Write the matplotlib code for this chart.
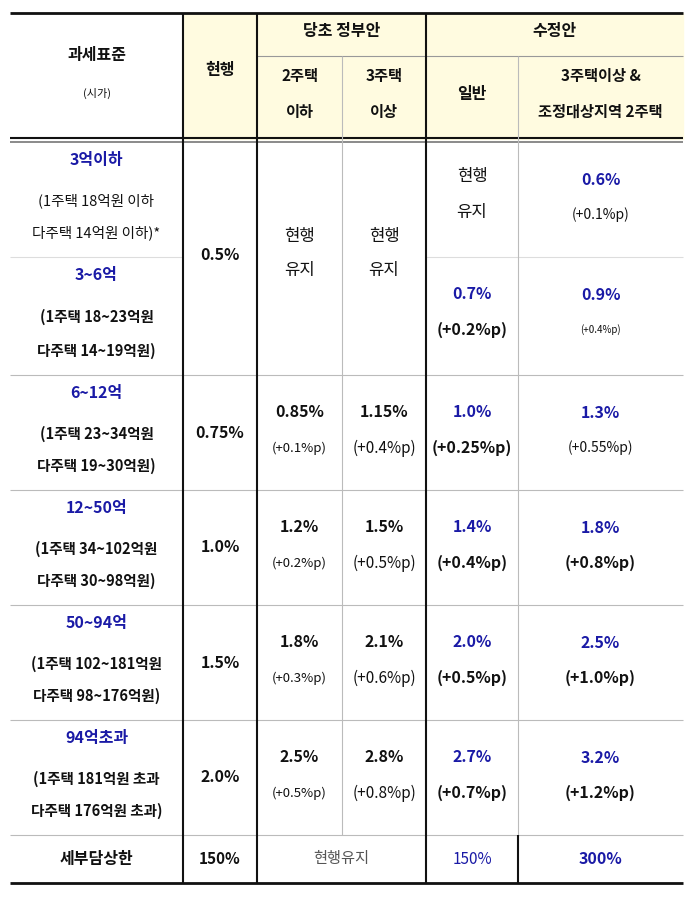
import matplotlib
matplotlib.use("Agg")
import matplotlib.pyplot as plt
from matplotlib.patches import Rectangle

plt.rcParams['font.family'] = ['Noto Sans CJK JP', 'Noto Sans CJK KR', 'Noto Sans CJK SC', 'DejaVu Sans']
BLUE = '#1a1aa6'; BLACK = '#111111'; GRAY = '#555555'; LG = '#bbbbbb'

brackets = ['3억이하', '3~6억', '6~12억', '12~50억', '50~94억', '94억초과']
bracket_sub1 = ['(1주택 18억원 이하', '(1주택 18~23억원', '(1주택 23~34억원', '(1주택 34~102억원', '(1주택 102~181억원', '(1주택 181억원 초과']
bracket_sub2 = ['다주택 14억원 이하)*', '다주택 14~19억원)', '다주택 19~30억원)', '다주택 30~98억원)', '다주택 98~176억원)', '다주택 176억원 초과)']
current = ['0.5%', '0.75%', '1.0%', '1.5%', '2.0%']
gov2 = ['0.85%', '1.2%', '1.8%', '2.5%']
gov2_d = ['(+0.1%p)', '(+0.2%p)', '(+0.3%p)', '(+0.5%p)']
gov3 = ['1.15%', '1.5%', '2.1%', '2.8%']
gov3_d = ['(+0.4%p)', '(+0.5%p)', '(+0.6%p)', '(+0.8%p)']
rev_gen = ['0.7%', '1.0%', '1.4%', '2.0%', '2.7%']
rev_gen_d = ['(+0.2%p)', '(+0.25%p)', '(+0.4%p)', '(+0.5%p)', '(+0.7%p)']
rev_multi = ['0.6%', '0.9%', '1.3%', '1.8%', '2.5%', '3.2%']
rev_multi_d = ['(+0.1%p)', '(+0.4%p)', '(+0.55%p)', '(+0.8%p)', '(+1.0%p)', '(+1.2%p)']
cap = ['세부담상한', '150%', '현행유지', '150%', '300%']

W, H = 688, 907
fig = plt.figure(figsize=(W/100, H/100), dpi=100)
ax = fig.add_axes([0, 0, 1, 1]); ax.set_xlim(0, W); ax.set_ylim(H, 0); ax.axis('off')

X = [10, 183, 257, 342, 426, 518, 683]
rows = [142, 257, 375, 490, 605, 720, 835, 883]
ax.add_patch(Rectangle((183, 13), 500, 126, color='#fffbe0', zorder=0))

def L(x1, y1, x2, y2, c=BLACK, w=1.2):
    ax.plot([x1, x2], [y1, y2], color=c, lw=w, solid_capstyle='butt')
def T(x, y, s, fs=11, c=BLACK, b=False):
    ax.text(x, y, s, fontsize=fs, color=c, fontweight='bold' if b else 'normal', ha='center', va='center')

L(10, 13, 683, 13, w=2); L(10, 883, 683, 883, w=2)
L(10, 138, 683, 138, w=1.5); L(10, 142, 683, 142, w=1.2, c='#777777')
L(257, 56, 683, 56, c='#999999', w=0.8)
L(10, 257, 183, 257, c='#dddddd', w=0.8); L(426, 257, 683, 257, c='#dddddd', w=0.8)
for y in rows[2:7]:
    L(10, y, 683, y, c=LG, w=0.8)
for x in [183, 257, 426]:
    L(x, 13, x, 883, w=1.5)
L(342, 56, 342, 835, c=LG, w=0.8)
L(518, 56, 518, 835, c=LG, w=0.8)
L(518, 835, 518, 883, w=1.5)

cx = [(X[i]+X[i+1])/2 for i in range(6)]
# header
T(cx[0], 55, '과세표준', 11.5, b=True); T(cx[0], 93, '(시가)', 8)
T(cx[1], 70, '현행', 11.5, b=True)
T((257+426)/2, 31, '당초 정부안', 11.5, b=True); T((426+683)/2, 31, '수정안', 11.5, b=True)
T(cx[2], 76, '2주택', 11, b=True); T(cx[2], 112, '이하', 11, b=True)
T(cx[3], 76, '3주택', 11, b=True); T(cx[3], 112, '이상', 11, b=True)
T(cx[4], 94, '일반', 11.5, b=True)
T(cx[5], 76, '3주택이상 &', 11, b=True); T(cx[5], 112, '조정대상지역 2주택', 11, b=True)

for i in range(6):
    y0, y1 = rows[i], rows[i+1]; m = (y0+y1)/2
    T(cx[0], y0+18, brackets[i], 11.5, BLUE, True)
    T(cx[0], m+1, bracket_sub1[i], 10.5, BLACK, i > 0)
    T(cx[0], y1-24, bracket_sub2[i], 10.5, BLACK, i > 0)
# current
T(cx[1], 255, current[0], 11.5, b=True)
for i in range(1, 5):
    T(cx[1], (rows[i+1]+rows[i+2])/2, current[i], 11.5, b=True)
T(cx[2], 236, '현행', 12); T(cx[2], 271, '유지', 12)
T(cx[3], 236, '현행', 12); T(cx[3], 271, '유지', 12)
T(cx[4], 177, '현행', 12); T(cx[4], 213, '유지', 12)
for i in range(4):
    y0 = rows[i+2]
    T(cx[2], y0+37, gov2[i], 11.5, b=True); T(cx[2], y0+73, gov2_d[i], 9.5)
    T(cx[3], y0+37, gov3[i], 11.5, b=True); T(cx[3], y0+73, gov3_d[i], 11)
for i in range(5):
    y0 = rows[i+1]
    T(cx[4], y0+37, rev_gen[i], 11.5, BLUE, True); T(cx[4], y0+73, rev_gen_d[i], 11.5, b=True)
for i in range(6):
    y0 = rows[i]
    fs = 7 if i == 1 else (10 if i in (0, 2) else 11.5)
    T(cx[5], y0+38, rev_multi[i], 11.5, BLUE, True); T(cx[5], y0+73, rev_multi_d[i], fs, b=i > 2)
yc = (835+883)/2
T(cx[0], yc, cap[0], 11.5, b=True); T(cx[1], yc, cap[1], 11, b=True)
T((257+426)/2, yc, cap[2], 11, GRAY); T(cx[4], yc, cap[3], 11, BLUE); T(cx[5], yc, cap[4], 11.5, BLUE, True)

fig.savefig('out.png', dpi=100, facecolor='white')
